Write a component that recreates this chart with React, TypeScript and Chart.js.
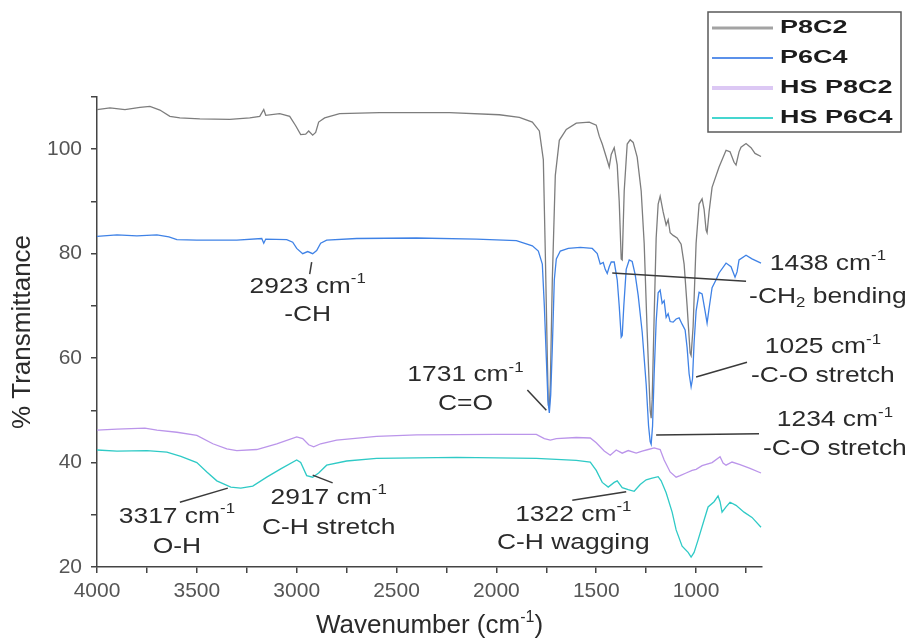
import React, { useEffect, useRef } from "react";
import { Chart, registerables } from "chart.js";

Chart.register(...registerables);

// ---------------- DATA ----------------
const seriesLabels = ["P8C2", "P6C4", "HS P8C2", "HS P6C4"];

const p8c2Wn = [4000, 3935, 3860, 3785, 3735, 3685, 3635, 3585, 3485, 3335, 3235, 3185, 3165, 3155, 3085, 3035, 3005, 2980, 2955, 2940, 2920, 2905, 2890, 2860, 2785, 2585, 2235, 1985, 1885, 1820, 1785, 1765, 1755, 1745, 1740, 1735, 1730, 1720, 1705, 1685, 1650, 1600, 1535, 1500, 1485, 1470, 1450, 1435, 1425, 1410, 1395, 1385, 1375, 1370, 1360, 1345, 1330, 1315, 1295, 1275, 1260, 1245, 1230, 1225, 1220, 1210, 1200, 1190, 1180, 1165, 1150, 1140, 1130, 1115, 1095, 1075, 1060, 1045, 1030, 1025, 1015, 1000, 985, 970, 960, 950, 945, 935, 920, 885, 850, 830, 810, 800, 785, 775, 750, 725, 705, 675];
const p8c2T = [107.6, 107.9, 107.6, 108.0, 108.2, 107.5, 106.3, 106.0, 105.8, 105.7, 106.0, 106.3, 107.6, 106.5, 106.8, 106.3, 104.5, 102.8, 102.9, 103.5, 102.7, 103.2, 105.2, 106.0, 106.8, 107.0, 107.0, 106.6, 106.1, 105.2, 103.5, 98, 80, 60, 51, 50.5, 55, 75, 95, 101.7, 103.8, 105.0, 105.2, 104.6, 102.5, 101.0, 98.5, 96.6, 99.0, 100.3, 97, 90, 79, 78.8, 92, 101.0, 101.8, 101.3, 98.5, 92, 82, 65, 50, 48.5, 52, 68, 83, 89.5, 91.0, 88, 85.5, 86.5, 84.0, 83.5, 83.0, 81.8, 78, 70, 61, 60.5, 66, 82, 89.5, 90.5, 88.5, 84.5, 84.0, 88, 92.7, 96.6, 99.8, 99.5, 97.5, 97.0, 99.5, 100.4, 101.1, 100.3, 99.2, 98.6];

const p6c4Wn = [4000, 3900, 3800, 3700, 3640, 3600, 3500, 3300, 3175, 3165, 3155, 3050, 3020, 3000, 2970, 2945, 2920, 2900, 2880, 2850, 2700, 2400, 2100, 1900, 1820, 1790, 1770, 1760, 1750, 1742, 1735, 1728, 1720, 1710, 1700, 1680, 1640, 1580, 1520, 1495, 1480, 1465, 1455, 1445, 1435, 1425, 1410, 1395, 1385, 1375, 1370, 1362, 1350, 1335, 1320, 1305, 1290, 1270, 1250, 1238, 1230, 1225, 1218, 1210, 1200, 1190, 1180, 1170, 1160, 1150, 1140, 1130, 1115, 1100, 1085, 1070, 1055, 1045, 1035, 1025, 1018, 1010, 1000, 985, 970, 955, 945, 935, 920, 900, 885, 850, 825, 805, 795, 785, 750, 720, 675];
const p6c4T = [83.3, 83.6, 83.4, 83.6, 83.2, 82.7, 82.6, 82.6, 82.9, 82.0, 82.8, 82.7, 82.2, 81.0, 80.0, 80.4, 80.0, 80.6, 82.0, 82.6, 82.9, 83.0, 82.8, 82.5, 81.5, 80.5, 78, 70, 60, 52, 49.5, 53, 62, 75, 79, 80.5, 81.0, 81.2, 81.0, 80.0, 78.0, 78.3, 77.0, 76.2, 77.5, 78.4, 78.4, 75, 70, 64, 64.3, 70, 77, 78.8, 78.5, 76, 72, 65, 55, 47, 44, 43.5, 47, 57, 67, 72.5, 73.0, 70.5, 71, 67.8, 68.5, 67, 66.9, 67.5, 67.7, 66.5, 65.4, 62, 57, 54.5, 56, 63, 69, 72.6, 72.3, 69, 66.7, 69.5, 73.5, 75, 76.3, 78.2, 77.5, 75.5, 76.5, 78.8, 79.7, 79, 78.2];

const hsP8c2Wn = [4000, 3900, 3760, 3700, 3600, 3500, 3420, 3350, 3300, 3200, 3100, 3000, 2970, 2940, 2915, 2880, 2800, 2600, 2400, 2000, 1800, 1760, 1730, 1700, 1600, 1530, 1500, 1460, 1430, 1400, 1370, 1340, 1300, 1270, 1240, 1210, 1180, 1160, 1130, 1100, 1080, 1050, 1020, 1000, 970, 920, 880, 865, 850, 820, 780, 730, 675];
const hsP8c2T = [46.2, 46.4, 46.6, 46.2, 45.8, 45.2, 43.6, 42.6, 42.3, 42.5, 43.6, 44.9, 44.6, 43.4, 43.0, 43.6, 44.3, 45.0, 45.3, 45.4, 45.4, 44.6, 44.3, 44.6, 44.8, 44.7, 43.8, 42.2, 41.4, 42.4, 41.8, 42.3, 41.8, 42.2, 42.5, 42.8, 42.5, 40.5, 38.2, 37.2, 37.5, 38.0, 38.5, 38.7, 39.4, 40.0, 41.1, 39.9, 39.5, 40.1, 39.6, 38.9, 38.0];

const hsP6c4Wn = [4000, 3900, 3750, 3650, 3580, 3500, 3450, 3400, 3330, 3280, 3220, 3150, 3080, 3000, 2980, 2950, 2920, 2890, 2850, 2750, 2600, 2200, 1800, 1600, 1530, 1500, 1470, 1440, 1410, 1395, 1370, 1340, 1310, 1280, 1250, 1220, 1190, 1175, 1150, 1120, 1100, 1070, 1040, 1025, 1010, 990, 960, 940, 910, 890, 880, 870, 850, 830, 800, 760, 720, 675];
const hsP6c4T = [42.4, 42.2, 42.3, 42.0, 41.2, 40.0, 38.2, 36.5, 35.3, 35.1, 35.5, 37.2, 38.8, 40.5, 40.0, 37.5, 37.2, 38.0, 39.5, 40.3, 40.8, 41.0, 40.8, 40.4, 40.1, 38.5, 36.2, 35.3, 36.2, 36.5, 35.2, 34.8, 34.5, 35.8, 36.7, 37.0, 37.3, 36.5, 34.2, 30.5, 27.1, 24.0, 22.8, 21.9, 22.8, 25.2, 29, 31.5, 32.5, 33.6, 32.5, 30.5, 31.5, 32.4, 31.8, 30.5, 29.5, 27.6];

const xTickLabels = [4000, 3500, 3000, 2500, 2000, 1500, 1000];
const yTickLabels = [20, 40, 60, 80, 100];

// annotations in data coordinates (wavenumber, %T)
const annotations = [
  { lines: ["2923 cm^{-1}", "-CH"], wn: 2945, t: [73.6, 68.2], from: [2925, 78.4], to: [2935, 76.1] },
  { lines: ["1731 cm^{-1}", "C=O"], wn: 2155, t: [56.7, 51.2], from: [1845, 53.9], to: [1750, 50.0] },
  { lines: ["1438 cm^{-1}", "-CH_{2} bending"], wn: 340, t: [78.0, 71.7], from: [1420, 76.3], to: [750, 74.7] },
  { lines: ["1025 cm^{-1}", "-C-O stretch"], wn: 365, t: [62.1, 56.6], from: [1000, 56.4], to: [745, 59.2] },
  { lines: ["1234 cm^{-1}", "-C-O stretch"], wn: 305, t: [48.1, 42.6], from: [1200, 45.3], to: [685, 45.5] },
  { lines: ["3317 cm^{-1}", "O-H"], wn: 3600, t: [29.6, 23.8], from: [3585, 32.4], to: [3345, 35.1] },
  { lines: ["2917 cm^{-1}", "C-H stretch"], wn: 2840, t: [33.2, 27.5], from: [2920, 37.6], to: [2820, 36.1] },
  { lines: ["1322 cm^{-1}", "C-H wagging"], wn: 1615, t: [30.0, 24.6], from: [1620, 32.8], to: [1350, 34.4] },
];

// ---------------- STYLE ----------------
const FONT = '"Liberation Sans", Arial, sans-serif';
const lineColors = ["#7d7d7d", "#3f82e6", "#bb95ea", "#2fcac6"];
const legendColors = ["#a3a3a3", "#5b91ea", "#dcc8f4", "#45d6cf"];
const legendWidths = [3, 2, 4, 2];

type Part = { t: string; k: number; w?: number };

function drawRich(ctx: CanvasRenderingContext2D, s: string, cx: number, cy: number, size: number, sx: number, weight = "") {
  const parts: Part[] = s
    .split(/(\^\{[^}]*\}|_\{[^}]*\})/)
    .filter((p) => p.length > 0)
    .map((p) => {
      if (p.startsWith("^{")) return { t: p.slice(2, -1), k: 1 };
      if (p.startsWith("_{")) return { t: p.slice(2, -1), k: -1 };
      return { t: p, k: 0 };
    });
  const small = Math.round(size * 0.62);
  let w = 0;
  for (const p of parts) {
    ctx.font = `${weight} ${p.k ? small : size}px ${FONT}`;
    p.w = ctx.measureText(p.t).width;
    w += p.w;
  }
  ctx.save();
  ctx.translate(cx, cy);
  ctx.scale(sx, 1);
  ctx.textBaseline = "middle";
  ctx.textAlign = "left";
  let x = -w / 2;
  for (const p of parts) {
    ctx.font = `${weight} ${p.k ? small : size}px ${FONT}`;
    const dy = p.k === 1 ? -size * 0.34 : p.k === -1 ? size * 0.3 : 0;
    ctx.fillText(p.t, x, dy);
    x += p.w || 0;
  }
  ctx.restore();
}

const overlayPlugin = {
  id: "overlay",
  afterDraw(chart: any) {
    const ctx: CanvasRenderingContext2D = chart.ctx;
    const xs = chart.scales.x;
    const ys = chart.scales.y;
    const ca = chart.chartArea;

    // annotations
    ctx.save();
    ctx.strokeStyle = "#3a3a3a";
    ctx.lineWidth = 1.5;
    ctx.fillStyle = "#2b2b2b";
    for (const a of annotations) {
      ctx.beginPath();
      ctx.moveTo(xs.getPixelForValue(a.from[0]), ys.getPixelForValue(a.from[1]));
      ctx.lineTo(xs.getPixelForValue(a.to[0]), ys.getPixelForValue(a.to[1]));
      ctx.stroke();
      a.lines.forEach((ln, i) => {
        drawRich(ctx, ln, xs.getPixelForValue(a.wn), ys.getPixelForValue(a.t[i]), 22, 1.2);
      });
    }
    ctx.restore();

    // axis titles
    ctx.save();
    ctx.fillStyle = "#2b2b2b";
    drawRich(ctx, "Wavenumber (cm^{-1})", (ca.left + ca.right) / 2, 626, 26, 1);
    ctx.translate(23, (ca.top + ca.bottom) / 2);
    ctx.rotate(-Math.PI / 2);
    drawRich(ctx, "% Transmittance", 0, 0, 26, 1);
    ctx.restore();

    // legend
    ctx.save();
    const bx = 708, by = 12, bw = 193, bh = 120;
    ctx.fillStyle = "#ffffff";
    ctx.fillRect(bx, by, bw, bh);
    ctx.strokeStyle = "#5a5a5a";
    ctx.lineWidth = 1.5;
    ctx.strokeRect(bx, by, bw, bh);
    chart.data.datasets.forEach((ds: any, i: number) => {
      const cy = by + 16 + i * 30;
      ctx.strokeStyle = legendColors[i];
      ctx.lineWidth = legendWidths[i];
      ctx.beginPath();
      ctx.moveTo(bx + 4, cy);
      ctx.lineTo(bx + 65, cy);
      ctx.stroke();
      ctx.save();
      ctx.fillStyle = "#1c1c1c";
      ctx.font = `bold 19px ${FONT}`;
      ctx.textBaseline = "middle";
      ctx.translate(bx + 72, cy);
      ctx.scale(1.42, 1);
      ctx.fillText(ds.label, 0, 0);
      ctx.restore();
    });
    ctx.restore();
  },
};

function makeSeries(wn: number[], t: number[]) {
  return wn.map((w, i) => ({ x: w, y: t[i] }));
}

export default function App() {
  const ref = useRef<HTMLCanvasElement | null>(null);

  useEffect(() => {
    if (!ref.current) return;
    const sets = [
      makeSeries(p8c2Wn, p8c2T),
      makeSeries(p6c4Wn, p6c4T),
      makeSeries(hsP8c2Wn, hsP8c2T),
      makeSeries(hsP6c4Wn, hsP6c4T),
    ];
    const chart = new Chart(ref.current, {
      type: "line",
      data: {
        datasets: sets.map((d, i) => ({
          label: seriesLabels[i],
          data: d,
          borderColor: lineColors[i],
          backgroundColor: lineColors[i],
          borderWidth: 1.3,
          pointRadius: 0,
          tension: 0,
          fill: false,
          order: 4 - i,
        })),
      },
      options: {
        responsive: false,
        animation: false,
        layout: { padding: { top: 97, right: 152, left: 0, bottom: 0 } },
        plugins: { legend: { display: false }, tooltip: { enabled: false }, title: { display: false } },
        scales: {
          x: {
            type: "linear",
            reverse: true,
            min: 670,
            max: 4000,
            afterFit: (s: any) => {
              s.height = 75;
            },
            border: { display: true, color: "#444", width: 1.5 },
            grid: { display: true, drawOnChartArea: false, drawTicks: true, tickLength: 6, color: "#444", lineWidth: 1.5 },
            ticks: {
              stepSize: 250,
              includeBounds: false,
              autoSkip: false,
              maxRotation: 0,
              padding: 6,
              color: "#555",
              font: { family: FONT, size: 21 },
              callback: (v: any) => (xTickLabels.includes(Number(v)) ? String(v) : ""),
            },
          },
          y: {
            type: "linear",
            min: 20,
            max: 110,
            afterFit: (s: any) => {
              s.width = 97;
            },
            border: { display: true, color: "#444", width: 1.5 },
            grid: { display: true, drawOnChartArea: false, drawTicks: true, tickLength: 6, color: "#444", lineWidth: 1.5 },
            ticks: {
              stepSize: 10,
              autoSkip: false,
              padding: 9,
              color: "#555",
              font: { family: FONT, size: 21 },
              callback: (v: any) => (yTickLabels.includes(Number(v)) ? String(v) : ""),
            },
          },
        },
      },
      plugins: [overlayPlugin],
    } as any);
    return () => chart.destroy();
  }, []);

  return (
    <div style={{ position: "absolute", left: 0, top: 0, width: 914, height: 642, background: "#fff" }}>
      <canvas ref={ref} width={914} height={642} style={{ display: "block" }} />
    </div>
  );
}
